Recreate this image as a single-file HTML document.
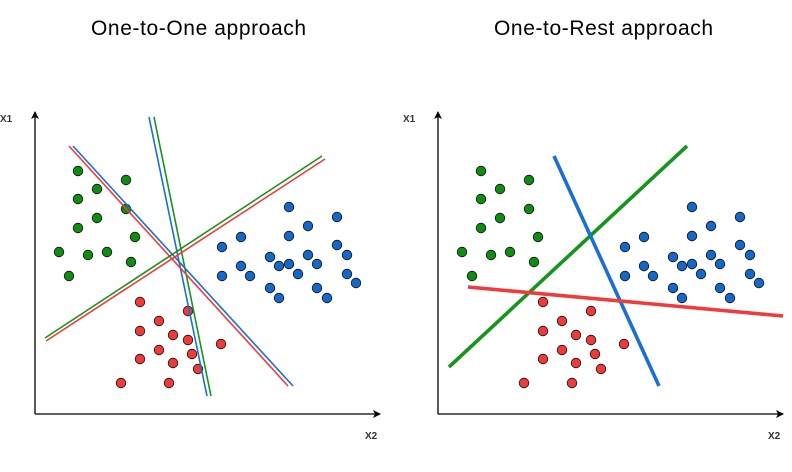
<!DOCTYPE html>
<html><head><meta charset="utf-8"><style>
html,body{margin:0;padding:0;background:#fff;}
svg{display:block;font-family:"Liberation Sans",sans-serif;}
</style></head><body>
<svg id="chart" width="792" height="472" viewBox="0 0 792 472">
<defs><marker id="arr" markerWidth="8" markerHeight="8" refX="7" refY="4" orient="auto" markerUnits="userSpaceOnUse"><path d="M0,0 L8,4 L0,8 L2,4 Z" fill="#000"/></marker></defs>
<text x="91" y="35" font-size="21" textLength="215">One-to-One approach</text>
<text x="494" y="35" font-size="21" textLength="219">One-to-Rest approach</text>
<g id="left"></g>
<g id="right"></g>
</svg>
<script>
// data coordinates: x = distance right of origin, y = distance above origin
const greenX=[43,91,62,43,91,62,43,100,24,53,72,96,34];
const greenY=[243,234,225,215,205,196,186,177,162,159,162,152,138];
const blueX=[254,302,273,254,206,187,302,312,235,273,254,244,282,206,215,187,263,312,321,235,244,282,292];
const blueY=[207,197,188,178,177,167,169,159,157,159,150,148,150,148,138,138,140,140,131,126,116,126,116];
const redX=[105,153,124,105,138,153,186,124,157,105,138,163,86,134];
const redY=[112,103,93,83,79,74,70,64,60,55,51,45,31,31];
// lines: [x1,y1,x2,y2] in data coords
const leftLines=[
 {c:"#1a6fd1",v:[114,297,172,18]},{c:"#16951a",v:[119,297,176,18]},
 {c:"#ef3b3b",v:[34,268,253,28]},{c:"#1a6fd1",v:[38,268,258,28]},
 {c:"#16951a",v:[10,76,287,258]},{c:"#ef3b3b",v:[11,73,290,255]}];
const rightLines=[
 {c:"#16951a",v:[11,47,249,268]},{c:"#1a6fd1",v:[116,258,221,28]},{c:"#ef3b3b",v:[30,127,345,98]}];
const ns="http://www.w3.org/2000/svg";
function mk(t,a,p){const e=document.createElementNS(ns,t);for(const k in a)e.setAttribute(k,a[k]);p.appendChild(e);return e;}
function panel(g,ox,lines,lw,nm){
 const X=v=>ox+v, Y=v=>414-v;
 let a=mk("line",{x1:X(0),y1:Y(0),x2:X(345),y2:Y(0),stroke:"#000","stroke-width":1.3,"marker-end":"url(#arr)"},g);
 
 
 a=mk("line",{x1:X(0),y1:Y(0),x2:X(0),y2:Y(302),stroke:"#000","stroke-width":1.3,"marker-end":"url(#arr)"},g);
 
 
 let t=mk("text",{x:X(-35),y:122,"font-size":10,"font-weight":"bold",fill:"#333"},g);t.textContent="X1";
 
 
 t=mk("text",{x:X(330),y:439,"font-size":10,"font-weight":"bold",fill:"#333"},g);t.textContent="X2";
 
 
 const sets=[[greenX,greenY,"#0f8c12","green"],[blueX,blueY,"#1468c8","blue"],[redX,redY,"#f03a3a","red"]];
 sets.forEach(s=>{s[0].forEach((x,i)=>{const c=mk("circle",{cx:X(x),cy:Y(s[1][i]),r:4.8,fill:s[2],stroke:"#111","stroke-width":0.8},g);
  
  });});
 lines.forEach(l=>{const e=mk("line",{x1:X(l.v[0]),y1:Y(l.v[1]),x2:X(l.v[2]),y2:Y(l.v[3]),stroke:l.c,"stroke-width":lw},g);
  
  });
}
panel(document.getElementById("left"),35,leftLines,1.6,"ovo");
panel(document.getElementById("right"),438,rightLines,3.6,"ovr");
</script>
</body></html>
